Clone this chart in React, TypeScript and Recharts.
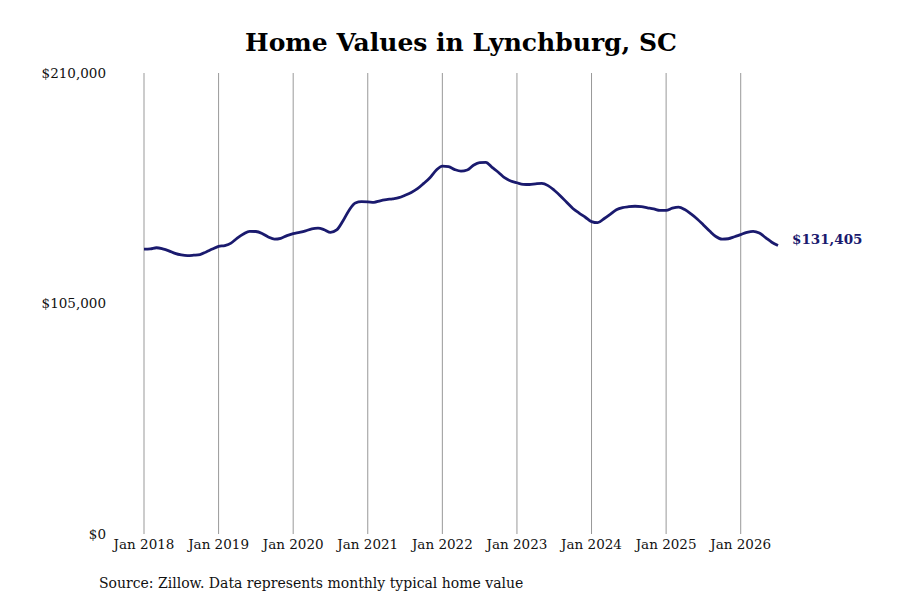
import { LineChart, Line, XAxis, YAxis, ReferenceLine } from "recharts";

const FONT = "'DejaVu Serif', serif";
const LINE_COLOR = "#1a1a6e";

// Typical home value, monthly from Jan 2018 to Jul 2026 (thousands of $)
const VALUES_K = [
  129.8, 129.9, 130.4, 129.9, 129.0, 127.8, 127.1, 126.8, 127.0, 127.3, 128.5, 129.8,
  131.0, 131.4, 132.5, 134.8, 136.7, 137.9, 137.8, 136.9, 135.3, 134.3, 134.7, 135.9,
  136.8, 137.4, 138.1, 139.0, 139.3, 138.6, 137.4, 138.5, 142.6, 147.5, 150.8, 151.4,
  151.3, 151.1, 151.8, 152.3, 152.7, 153.2, 154.3, 155.6, 157.3, 159.7, 162.3, 165.7,
  167.6, 167.3, 166.0, 165.3, 165.8, 168.0, 169.2, 169.3, 167.0, 164.8, 162.3, 160.8,
  160.0, 159.3, 159.2, 159.5, 159.7, 158.7, 156.6, 154.0, 151.1, 148.3, 146.2, 144.3,
  142.3, 141.8, 143.6, 145.6, 147.7, 148.7, 149.1, 149.3, 149.1, 148.6, 148.1, 147.4,
  147.4, 148.4, 148.9, 147.8, 145.8, 143.5, 140.8, 138.0, 135.5, 134.3, 134.5, 135.4,
  136.4, 137.4, 137.9, 137.1, 135.0, 132.9, 131.405,
];

const START_YEAR = 2018;
const YEAR_TICKS = [0, 12, 24, 36, 48, 60, 72, 84, 96];
const Y_TICKS = [0, 105000, 210000];

const data = VALUES_K.map((v, i) => ({ idx: i, value: Math.round(v * 1000) }));
const LAST = data.length - 1;

const money = (v: number) => "$" + v.toLocaleString("en-US");

function EndLabel(props: any) {
  const { x, y, index } = props;
  if (index !== LAST) return null;
  return (
    <text
      x={x + 14}
      y={y - 6}
      dy="0.355em"
      fill={LINE_COLOR}
      fontFamily={FONT}
      fontSize={13.5}
      fontWeight="bold"
    >
      {money(data[LAST].value)}
    </text>
  );
}

export default function App() {
  return (
    <div
      style={{
        position: "absolute",
        left: 0,
        top: 0,
        width: 900,
        height: 600,
        background: "#fff",
        fontFamily: FONT,
      }}
    >
      <div
        style={{
          position: "absolute",
          left: 22,
          width: 878,
          top: 27,
          textAlign: "center",
          fontSize: 25,
          fontWeight: "bold",
          lineHeight: "32px",
        }}
      >
        Home Values in Lynchburg, SC
      </div>
      <LineChart
        width={900}
        height={600}
        data={data}
        margin={{ top: 73, right: 122, bottom: 36, left: 0 }}
        style={{ position: "absolute", left: 0, top: 0 }}
      >
        <XAxis
          dataKey="idx"
          type="number"
          height={30}
          domain={[0, LAST]}
          ticks={YEAR_TICKS}
          axisLine={false}
          tickLine={false}
          tickMargin={-1}
          tick={{ fill: "#111", fontSize: 13.5, fontFamily: FONT }}
          tickFormatter={(v: number) => `Jan ${START_YEAR + v / 12}`}
        />
        <YAxis
          width={144}
          domain={[0, 210000]}
          ticks={Y_TICKS}
          axisLine={false}
          tickLine={false}
          tickMargin={32}
          tick={{ fill: "#111", fontSize: 13.5, fontFamily: FONT }}
          tickFormatter={money}
        />
        {YEAR_TICKS.map((t) => (
          <ReferenceLine key={t} x={t} stroke="#999" strokeWidth={1} />
        ))}
        <Line
          type="monotone"
          dataKey="value"
          stroke={LINE_COLOR}
          strokeWidth={2.8}
          dot={false}
          isAnimationActive={false}
          label={<EndLabel />}
        />
      </LineChart>
      <div
        style={{
          position: "absolute",
          left: 99,
          top: 574,
          fontSize: 14,
          lineHeight: "18px",
          color: "#111",
        }}
      >
        Source: Zillow. Data represents monthly typical home value
      </div>
    </div>
  );
}
